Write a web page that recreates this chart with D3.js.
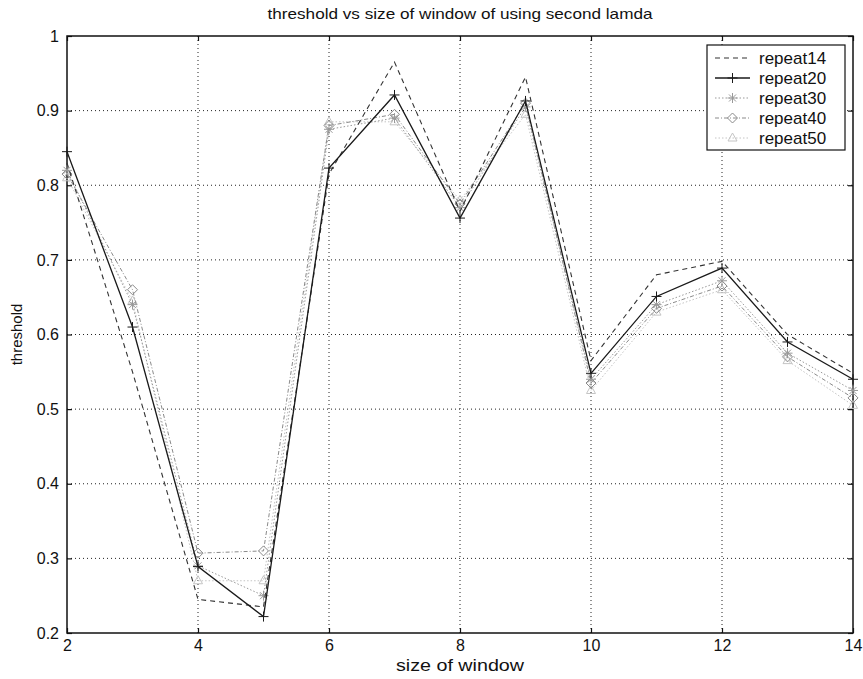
<!DOCTYPE html>
<html>
<head>
<meta charset="utf-8">
<style>
body { margin: 0; background: #fff; }
text { font-family: "Liberation Sans", Arial, sans-serif; fill: #111; }
</style>
</head>
<body>
<div id="chart"></div>
<script src="https://d3js.org/d3.v7.min.js"></script>
<script>

// size of window
var windowSizes = [2, 3, 4, 5, 6, 7, 8, 9, 10, 11, 12, 13, 14];

var repeat14 = [0.83, 0.55, 0.245, 0.235, 0.815, 0.965, 0.765, 0.945, 0.565, 0.68, 0.698, 0.60, 0.548];
var repeat20 = [0.845, 0.61, 0.289, 0.222, 0.823, 0.921, 0.756, 0.913, 0.548, 0.651, 0.689, 0.59, 0.54];
var repeat30 = [0.82, 0.64, 0.29, 0.25, 0.875, 0.89, 0.77, 0.905, 0.54, 0.64, 0.672, 0.575, 0.525];
var repeat40 = [0.815, 0.66, 0.307, 0.31, 0.88, 0.895, 0.775, 0.91, 0.535, 0.635, 0.665, 0.57, 0.515];
var repeat50 = [0.81, 0.645, 0.27, 0.27, 0.885, 0.885, 0.78, 0.895, 0.525, 0.63, 0.66, 0.565, 0.505];

var xTicks = [2, 4, 6, 8, 10, 12, 14];
var yTicks = [0.2, 0.3, 0.4, 0.5, 0.6, 0.7, 0.8, 0.9, 1];

var seriesNames = ["repeat14", "repeat20", "repeat30", "repeat40", "repeat50"];
var seriesValues = [repeat14, repeat20, repeat30, repeat40, repeat50];

var styles = {
  repeat14: {color: "#333", width: 1.1, dash: "5,4", marker: null},
  repeat20: {color: "#1a1a1a", width: 1.3, dash: null, marker: "plus"},
  repeat30: {color: "#999", width: 1, dash: "1.5,2", marker: "star"},
  repeat40: {color: "#8a8a8a", width: 1, dash: "4,2,1,2", marker: "diamond"},
  repeat50: {color: "#c4c4c4", width: 1, dash: "1.5,2", marker: "triangle"}
};

var W = 863, H = 679;
var margin = {top: 36, right: 10, bottom: 46, left: 67};
var width = W - margin.left - margin.right,
    height = H - margin.top - margin.bottom;

var svg = d3.select("#chart").append("svg")
    .attr("width", W)
    .attr("height", H);

var g = svg.append("g").attr("transform", "translate(" + margin.left + "," + margin.top + ")");

var x = d3.scaleLinear().domain([2, 14]).range([0, width]);
var y = d3.scaleLinear().domain([0.2, 1]).range([height, 0]);

// grid
g.append("g").selectAll("line")
  .data(xTicks.slice(1, -1))
  .enter().append("line")
    .attr("x1", function(d) { return x(d); })
    .attr("x2", function(d) { return x(d); })
    .attr("y1", 0).attr("y2", height)
    .attr("stroke", "#222").attr("stroke-width", 1)
    .attr("stroke-dasharray", "1,3");

g.append("g").selectAll("line")
  .data(yTicks.slice(1, -1))
  .enter().append("line")
    .attr("y1", function(d) { return y(d); })
    .attr("y2", function(d) { return y(d); })
    .attr("x1", 0).attr("x2", width)
    .attr("stroke", "#222").attr("stroke-width", 1)
    .attr("stroke-dasharray", "1,3");

// axes, ticks inside like matlab
var fmtY = function(d) { return d === 1 ? "1" : d3.format(".1f")(d); };

var xAxis = g.append("g")
    .attr("transform", "translate(0," + height + ")")
    .call(d3.axisBottom(x).tickValues(xTicks).tickSizeInner(-5).tickSizeOuter(0).tickPadding(7));
var yAxis = g.append("g")
    .call(d3.axisLeft(y).tickValues(yTicks).tickFormat(fmtY).tickSizeInner(-5).tickSizeOuter(0).tickPadding(8));
g.append("g")
    .call(d3.axisTop(x).tickValues(xTicks).tickSizeInner(-5).tickSizeOuter(0).tickFormat(""));
g.append("g")
    .attr("transform", "translate(" + width + ",0)")
    .call(d3.axisRight(y).tickValues(yTicks).tickSizeInner(-5).tickSizeOuter(0).tickFormat(""));

g.selectAll(".domain").remove();
g.selectAll(".tick line").attr("stroke", "#111").attr("stroke-width", 1.2);
xAxis.selectAll("text").attr("font-size", 16).attr("fill", "#111");
yAxis.selectAll("text").attr("font-size", 16).attr("fill", "#111");

g.append("rect")
    .attr("x", 0).attr("y", 0)
    .attr("width", width).attr("height", height)
    .attr("fill", "none").attr("stroke", "#111").attr("stroke-width", 1.5);

// lines
var line = d3.line()
    .x(function(d) { return x(d[0]); })
    .y(function(d) { return y(d[1]); });

function markerPath(type, s) {
  if (type === "plus") return "M" + (-s) + ",0H" + s + "M0," + (-s) + "V" + s;
  if (type === "star") return "M" + (-s) + ",0H" + s + "M0," + (-s) + "V" + s +
      "M" + (-s * 0.7) + "," + (-s * 0.7) + "L" + (s * 0.7) + "," + (s * 0.7) +
      "M" + (-s * 0.7) + "," + (s * 0.7) + "L" + (s * 0.7) + "," + (-s * 0.7);
  if (type === "diamond") return "M0," + (-s) + "L" + s + ",0L0," + s + "L" + (-s) + ",0Z";
  if (type === "triangle") return "M0," + (-s) + "L" + (s * 0.9) + "," + (s * 0.6) + "L" + (-s * 0.9) + "," + (s * 0.6) + "Z";
  return "";
}

var drawOrder = [4, 3, 2, 0, 1];
drawOrder.forEach(function(i) {
  var name = seriesNames[i];
  var st = styles[name];
  var pts = windowSizes.map(function(w, j) { return [w, seriesValues[i][j]]; });
  g.append("path")
    .datum(pts)
    .attr("d", line)
    .attr("fill", "none")
    .attr("stroke", st.color)
    .attr("stroke-width", st.width)
    .attr("stroke-dasharray", st.dash);
  if (st.marker) {
    g.append("g").selectAll("path")
      .data(pts)
      .enter().append("path")
        .attr("transform", function(d) { return "translate(" + x(d[0]) + "," + y(d[1]) + ")"; })
        .attr("d", markerPath(st.marker, 5))
        .attr("fill", "none")
        .attr("stroke", st.color)
        .attr("stroke-width", 1);
  }
});

// title and labels
svg.append("text")
    .attr("x", margin.left + width / 2)
    .attr("y", 19)
    .attr("text-anchor", "middle")
    .attr("font-size", 15)
    .attr("textLength", 385)
    .attr("lengthAdjust", "spacingAndGlyphs")
    .text("threshold vs size of window of using second lamda");

svg.append("text")
    .attr("x", margin.left + width / 2)
    .attr("y", 671)
    .attr("text-anchor", "middle")
    .attr("font-size", 16)
    .attr("textLength", 128)
    .attr("lengthAdjust", "spacingAndGlyphs")
    .text("size of window");

svg.append("text")
    .attr("transform", "translate(22," + (margin.top + height / 2) + ") rotate(-90)")
    .attr("text-anchor", "middle")
    .attr("font-size", 15)
    .text("threshold");

// legend
var lg = svg.append("g").attr("transform", "translate(707,45)");
lg.append("rect")
    .attr("width", 138).attr("height", 105)
    .attr("fill", "#fff").attr("stroke", "#111").attr("stroke-width", 1.2);

var items = lg.selectAll("g.item")
    .data(seriesNames)
    .enter().append("g")
      .attr("class", "item")
      .attr("transform", function(d, i) { return "translate(0," + (13 + i * 20) + ")"; });

items.append("line")
    .attr("x1", 8).attr("x2", 43)
    .attr("stroke", function(d) { return styles[d].color; })
    .attr("stroke-width", function(d) { return styles[d].width; })
    .attr("stroke-dasharray", function(d) { return styles[d].dash; });

items.append("path")
    .attr("transform", "translate(25.5,0)")
    .attr("d", function(d) { return markerPath(styles[d].marker, 5); })
    .attr("fill", "none")
    .attr("stroke", function(d) { return styles[d].color; });

items.append("text")
    .attr("x", 52)
    .attr("dy", "0.35em")
    .attr("font-size", 17)
    .text(function(d) { return d; });

</script>
</body>
</html>
